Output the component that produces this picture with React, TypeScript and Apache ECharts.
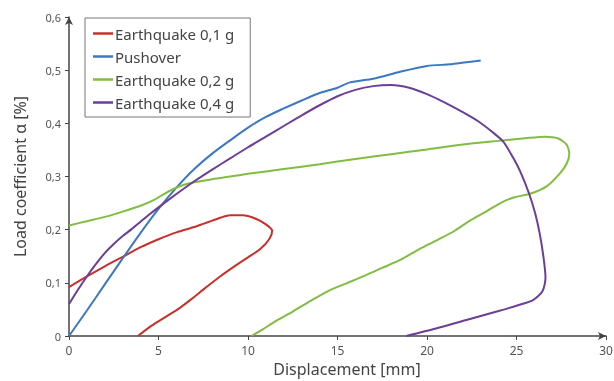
import React, { useEffect, useRef } from "react";
import * as echarts from "echarts";

const seriesNames = ["Earthquake 0,1 g", "Pushover", "Earthquake 0,2 g", "Earthquake 0,4 g"];
const seriesColors = ["#c9302c", "#3b78c3", "#80bd41", "#6b3e98"];

const yTickLabels = ["0", "0,1", "0,2", "0,3", "0,4", "0,5", "0,6"];
const xTickLabels = ["0", "5", "10", "15", "20", "25", "30"];

const quake01: number[][] = [
  [0, 0.092], [1, 0.112], [2, 0.131], [3, 0.149], [4, 0.167], [5, 0.182], [6, 0.195],
  [7, 0.205], [7.5, 0.211], [8, 0.217], [8.5, 0.223], [9, 0.227], [9.7, 0.227],
  [10.4, 0.221], [11, 0.21], [11.35, 0.198], [11.2, 0.183], [10.7, 0.164], [10, 0.148],
  [9.2, 0.13], [8.4, 0.111], [7.6, 0.09], [6.9, 0.071], [6.2, 0.053], [5.4, 0.036],
  [4.6, 0.019], [3.85, 0],
];

const pushover: number[][] = [
  [0, 0], [1, 0.048], [2, 0.097], [3, 0.146], [4, 0.194], [5, 0.239], [6, 0.279],
  [7, 0.314], [8, 0.343], [9, 0.368], [10, 0.392], [11, 0.412], [12, 0.428],
  [13, 0.443], [14, 0.457], [15, 0.467], [15.7, 0.477], [17, 0.484], [18.5, 0.497],
  [20, 0.508], [21.3, 0.511], [22.2, 0.515], [23, 0.518],
];

const quake02: number[][] = [
  [0, 0.208], [1, 0.216], [2, 0.224], [3, 0.234], [4, 0.245], [4.7, 0.255],
  [5.3, 0.267], [5.8, 0.276], [6.3, 0.283], [7, 0.289], [8, 0.295], [9, 0.3],
  [10, 0.305], [12, 0.314], [14, 0.323], [16, 0.333], [18, 0.342], [20, 0.351],
  [22, 0.36], [24, 0.367], [25.5, 0.372], [26.6, 0.375], [27.3, 0.372], [27.8, 0.36],
  [27.95, 0.343], [27.8, 0.324], [27.4, 0.305], [26.7, 0.282], [25.8, 0.268], [24.9, 0.261],
  [24.2, 0.252], [23.3, 0.234], [22.4, 0.217], [21.5, 0.197], [20.6, 0.181], [19.6, 0.164],
  [18.5, 0.143], [17.5, 0.128], [16.5, 0.113], [15.5, 0.099], [14.5, 0.085], [13.5, 0.066],
  [12.5, 0.046], [11.5, 0.027], [10.8, 0.012], [10.2, 0],
];

const quake04: number[][] = [
  [0, 0.06], [0.5, 0.087], [1, 0.112], [1.5, 0.135], [2, 0.156], [2.5, 0.173],
  [3, 0.188], [3.5, 0.201], [4, 0.215], [4.5, 0.229], [5, 0.242], [6, 0.267],
  [7, 0.291], [8, 0.313], [9, 0.334], [10, 0.355], [11, 0.375], [12, 0.395],
  [13, 0.415], [14, 0.434], [15, 0.451], [16, 0.463], [17, 0.47], [18, 0.472],
  [19, 0.467], [20, 0.455], [21, 0.439], [22, 0.421], [22.9, 0.403], [23.6, 0.385],
  [24.25, 0.366], [24.8, 0.336], [25.2, 0.31], [25.7, 0.268], [26.05, 0.23],
  [26.3, 0.192], [26.5, 0.15], [26.62, 0.11], [26.45, 0.084], [25.9, 0.067],
  [25, 0.057], [24, 0.047], [22.2, 0.03], [20.5, 0.014], [18.85, 0],
];

const seriesData = [quake01, pushover, quake02, quake04];

const FONT = "'Noto Sans', 'Open Sans', sans-serif";

export default function App() {
  const ref = useRef<HTMLDivElement>(null);
  useEffect(() => {
    if (!ref.current) return;
    const chart = echarts.init(ref.current, undefined, { renderer: "svg" });
    chart.setOption({
      animation: false,
      textStyle: { fontFamily: FONT },
      grid: { left: 69, right: 8, top: 17, bottom: 45, containLabel: false, outerBoundsMode: "none" },
      legend: {
        orient: "vertical",
        left: 85,
        top: 18,
        padding: [8, 16, 7, 8],
        itemGap: 8,
        itemWidth: 20,
        itemHeight: 2.5,
        icon: "rect",
        borderColor: "#777",
        borderWidth: 1,
        data: seriesNames,
        textStyle: { fontFamily: FONT, fontSize: 15, color: "#444", padding: [0, 0, 0, -3] },
      },
      xAxis: {
        type: "value",
        min: 0,
        max: 30,
        interval: 5,
        name: "Displacement [mm]",
        nameLocation: "middle",
        nameGap: 24,
        nameTextStyle: { fontFamily: FONT, fontSize: 16, color: "#444", padding: [0, 0, 0, 19] },
        axisLine: { show: true, symbol: ["none", "arrow"], symbolSize: [6, 8], lineStyle: { color: "#444", width: 1.5 } },
        axisTick: { show: true, length: 4, lineStyle: { color: "#444" } },
        splitLine: { show: false },
        axisLabel: {
          fontFamily: FONT,
          fontSize: 12,
          color: "#555",
          margin: 8,
          formatter: (v: number) => xTickLabels[Math.round(v / 5)] ?? "",
        },
      },
      yAxis: {
        type: "value",
        min: 0,
        max: 0.6,
        interval: 0.1,
        name: "Load coefficient α [%]",
        nameLocation: "middle",
        nameGap: 41,
        nameTextStyle: { fontFamily: FONT, fontSize: 16, color: "#444" },
        axisLine: { show: true, symbol: ["none", "arrow"], symbolSize: [6, 8], lineStyle: { color: "#444", width: 1.5 } },
        axisTick: { show: true, length: 4, lineStyle: { color: "#444" } },
        splitLine: { show: false },
        axisLabel: {
          fontFamily: FONT,
          fontSize: 11,
          color: "#555",
          margin: 8,
          formatter: (v: number) => yTickLabels[Math.round(v * 10)] ?? "",
        },
      },
      series: seriesNames.map((name, i) => ({
        name,
        type: "line",
        data: seriesData[i],
        showSymbol: false,
        smooth: 0.25,
        color: seriesColors[i],
        lineStyle: { width: 2, color: seriesColors[i] },
      })),
    });
    return () => chart.dispose();
  }, []);
  return (
    <div
      ref={ref}
      style={{ position: "fixed", left: 0, top: 0, width: 614, height: 381 }}
    />
  );
}
